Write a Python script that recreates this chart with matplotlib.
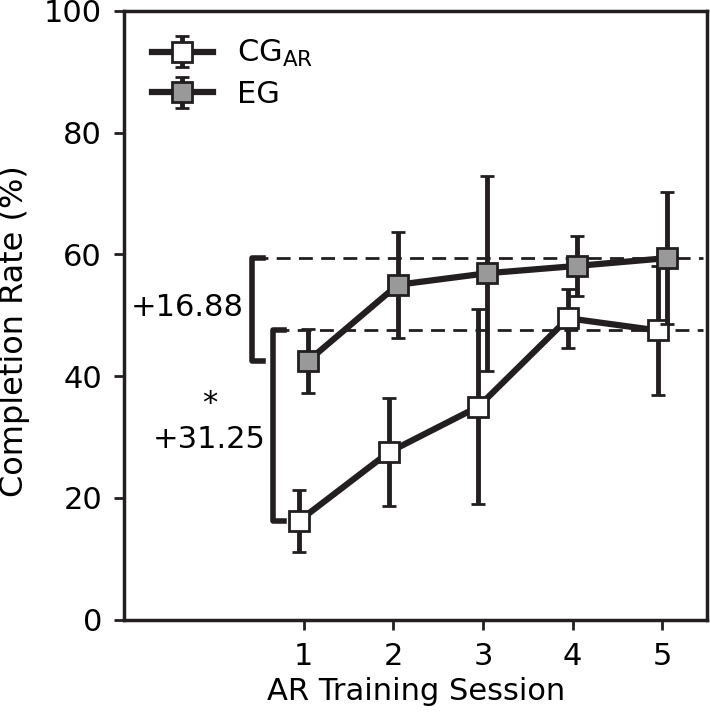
import numpy as np
import matplotlib.pyplot as plt

sessions = np.array([1, 2, 3, 4, 5])
cg_mean = [16.25, 27.5, 35.0, 49.5, 47.5]
cg_err = [5.1, 8.9, 16.0, 4.8, 10.6]
eg_mean = [42.5, 55.0, 56.9, 58.1, 59.375]
eg_err = [5.2, 8.7, 16.0, 4.9, 10.8]
xticklabels = ['1', '2', '3', '4', '5']

dark = '#231f20'
plt.rcParams['font.family'] = 'DejaVu Sans'
plt.rcParams['font.size'] = 22

fig = plt.figure(figsize=(7.1, 7.14), dpi=100)
ax = fig.add_axes([0.175, 0.132, 0.821, 0.853])

ax.errorbar(sessions - 0.05, cg_mean, yerr=cg_err, color=dark, lw=4.5,
            elinewidth=3.5, capsize=5, capthick=3.5, marker='s', ms=15,
            mfc='white', mec=dark, mew=2, label='CG$_{\\mathrm{AR}}$', zorder=3)
ax.errorbar(sessions + 0.05, eg_mean, yerr=eg_err, color=dark, lw=4.5,
            elinewidth=3.5, capsize=5, capthick=3.5, marker='s', ms=15,
            mfc='#999999', mec=dark, mew=2, label='EG', zorder=4)

# reference lines and brackets
ax.plot([0.45, 5.45], [eg_mean[-1], eg_mean[-1]], ls='--', color=dark, lw=2, dashes=(5, 3), zorder=1)
ax.plot([0.68, 5.45], [cg_mean[-1], cg_mean[-1]], ls='--', color=dark, lw=2, dashes=(5, 3), zorder=1)
ax.plot([0.55, 0.42, 0.42, 0.55], [eg_mean[-1], eg_mean[-1], eg_mean[0], eg_mean[0]],
        color=dark, lw=4, solid_joinstyle='round', zorder=2)
ax.plot([0.78, 0.66, 0.66, 0.78], [cg_mean[-1], cg_mean[-1], cg_mean[0], cg_mean[0]],
        color=dark, lw=4, solid_joinstyle='round', zorder=2)

d1 = eg_mean[-1] - eg_mean[0]
d2 = cg_mean[-1] - cg_mean[0]
ax.text(0.33, 51.3, '+%.2f' % d1, ha='right', va='center', fontsize=22)
ax.text(-0.05, 35.5, '*', ha='center', va='center', fontsize=22)
ax.text(-0.05, 29.6, '+%.2f' % d2, ha='center', va='center', fontsize=22)

ax.set_xlim(-1.0, 5.5)
ax.set_ylim(0, 100)
ax.set_xticks(sessions)
ax.set_xticklabels(xticklabels)
ax.set_yticks([0, 20, 40, 60, 80, 100])
ax.set_xlabel('AR Training Session', fontsize=22, labelpad=4)
ax.set_ylabel('Completion Rate (%)', fontsize=23)
ax.yaxis.set_label_coords(-0.162, 0.474)
ax.tick_params(width=2, length=7, labelsize=22, color=dark, pad=9)
for s in ax.spines.values():
    s.set_linewidth(2.5)
    s.set_color(dark)

leg = ax.legend(loc='upper left', frameon=False, fontsize=22, handlelength=2.0,
                borderaxespad=0.5, labelspacing=0.35, handletextpad=0.8)

fig.savefig('out.png', dpi=100)
